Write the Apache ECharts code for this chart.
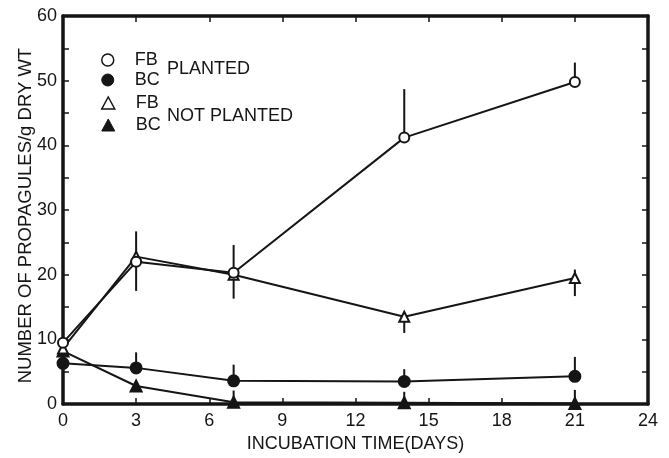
<!DOCTYPE html>
<html>
<head>
<meta charset="utf-8">
<script src="https://cdn.jsdelivr.net/npm/echarts@6/dist/echarts.min.js"></script>
<style>
  html, body { margin: 0; padding: 0; background: #fff; }
  #chart { width: 669px; height: 458px; }
</style>
</head>
<body>
<div id="chart"></div>
<script>
// incubation days
let days = [0, 3, 7, 14, 21]
let xTicks = [0, 3, 6, 9, 12, 15, 18, 21, 24]
let yTicks = [0, 10, 20, 30, 40, 50, 60]

// propagules / g dry wt
let fbPlanted = [9.5, 22, 20.3, 41.2, 49.8]
let bcPlanted = [6.3, 5.6, 3.6, 3.5, 4.3]
let fbNotPlanted = [8.6, 22.8, 20, 13.5, 19.5]
let bcNotPlanted = [8.2, 2.8, 0.3, 0.2, 0.1]

// error bars: [day, low, high]
let fbPlantedErr = [[3, 17.5, 26.7], [7, 16.3, 24.6], [14, 41.2, 48.7], [21, 49.8, 52.8]]
let fbNotPlantedErr = [[14, 11, 13.5], [21, 16.7, 20.8]]
let bcPlantedErr = [[3, 5.6, 8], [7, 3.6, 6.1], [14, 3.5, 5.4], [21, 4.3, 7.3]]
let bcNotPlantedErr = [[7, 0.3, 2.1], [14, 0.2, 1.9], [21, 0.1, 2.2]]

const ink = '#151515'
const font = "'Liberation Sans', Arial, sans-serif"

function pairs(vals) {
    return days.map((d, i) => [d, vals[i]])
}

function errSeries(data) {
    return {
        type: 'custom',
        silent: true,
        z: 1,
        data: data,
        renderItem(params, api) {
            let a = api.coord([api.value(0), api.value(1)])
            let b = api.coord([api.value(0), api.value(2)])
            return {
                type: 'line',
                shape: {x1: a[0], y1: a[1], x2: b[0], y2: b[1]},
                style: {stroke: ink, lineWidth: 2}
            }
        }
    }
}

function lineSeries(name, vals, symbol, filled, size) {
    return {
        name: name,
        type: 'line',
        data: pairs(vals),
        symbol: symbol,
        symbolSize: size,
        showAllSymbol: true,
        z: 3,
        lineStyle: {color: ink, width: 2},
        itemStyle: {color: filled ? ink : '#fff', borderColor: ink, borderWidth: 2, opacity: 1}
    }
}

const openItem = {color: '#fff', borderColor: ink, borderWidth: 1.5}
const fullItem = {color: ink, borderColor: ink, borderWidth: 1}
const legendText = {fontFamily: font, fontSize: 18, lineHeight: 18, color: ink, padding: [0, 0, 0, 16]}

function sideAxis(extra) {
    return Object.assign({
        type: 'value',
        axisLine: {show: true, onZero: false, lineStyle: {color: ink, width: 3.5}},
        axisTick: {show: true, inside: true, length: 6, lineStyle: {color: ink, width: 1.5}},
        splitLine: {show: false}
    }, extra)
}

let option = {
    backgroundColor: '#fff',
    animation: false,
    textStyle: {fontFamily: font, color: ink},
    grid: {left: 63, right: 21, top: 16, bottom: 51},
    legend: [
        {
            left: 101, top: 51, orient: 'vertical', itemGap: 2, padding: 0,
            itemWidth: 12, itemHeight: 12,
            formatter: n => n.slice(0, 2),
            textStyle: legendText,
            data: [
                {name: 'FB planted', icon: 'circle', itemStyle: openItem},
                {name: 'BC planted', icon: 'circle', itemStyle: fullItem}
            ]
        },
        {
            left: 101, top: 94, orient: 'vertical', itemGap: 4, padding: 0,
            itemWidth: 13, itemHeight: 12,
            formatter: n => n.slice(0, 2),
            textStyle: legendText,
            data: [
                {name: 'FB not planted', icon: 'triangle', itemStyle: openItem},
                {name: 'BC not planted', icon: 'triangle', itemStyle: fullItem}
            ]
        }
    ],
    graphic: [
        {type: 'text', left: 167, top: 60, style: {text: 'PLANTED', font: '18px ' + font, fill: ink}},
        {type: 'text', left: 167, top: 107, style: {text: 'NOT PLANTED', font: '18px ' + font, fill: ink}}
    ],
    xAxis: [
        sideAxis({
            min: 0, max: 24, interval: 3,
            name: 'INCUBATION TIME(DAYS)', nameLocation: 'middle', nameGap: 26,
            nameTextStyle: {fontSize: 18, color: ink, fontFamily: font},
            axisLabel: {fontSize: 18, color: ink, margin: 8,
                formatter: v => xTicks.includes(v) ? String(v) : ''}
        }),
        sideAxis({
            position: 'top', min: 0, max: 24, interval: 3,
            axisLabel: {show: false}
        })
    ],
    yAxis: [
        sideAxis({
            min: 0, max: 60, interval: 10,
            name: 'NUMBER OF PROPAGULES/g DRY WT', nameLocation: 'middle', nameGap: 28,
            nameMoveOverlap: false,
            nameTextStyle: {fontSize: 18.5, color: ink, fontFamily: font, padding: [0, 11, 0, 0]},
            minorTick: {show: true, splitNumber: 2, length: 6, lineStyle: {color: ink, width: 1.5}},
            axisLabel: {fontSize: 18, color: ink, margin: 6,
                formatter: v => yTicks.includes(v) ? String(v) : ''}
        }),
        sideAxis({
            position: 'right', min: 0, max: 60, interval: 10,
            minorTick: {show: true, splitNumber: 2, length: 6, lineStyle: {color: ink, width: 1.5}},
            axisLabel: {show: false}
        })
    ],
    series: [
        errSeries(fbPlantedErr),
        errSeries(fbNotPlantedErr),
        errSeries(bcPlantedErr),
        errSeries(bcNotPlantedErr),
        lineSeries('BC not planted', bcNotPlanted, 'triangle', true, 11),
        lineSeries('BC planted', bcPlanted, 'circle', true, 11),
        lineSeries('FB not planted', fbNotPlanted, 'triangle', false, 10),
        lineSeries('FB planted', fbPlanted, 'circle', false, 10)
    ]
}

let myChart = echarts.init(document.querySelector('#chart'))
myChart.setOption(option)
</script>
</body>
</html>
